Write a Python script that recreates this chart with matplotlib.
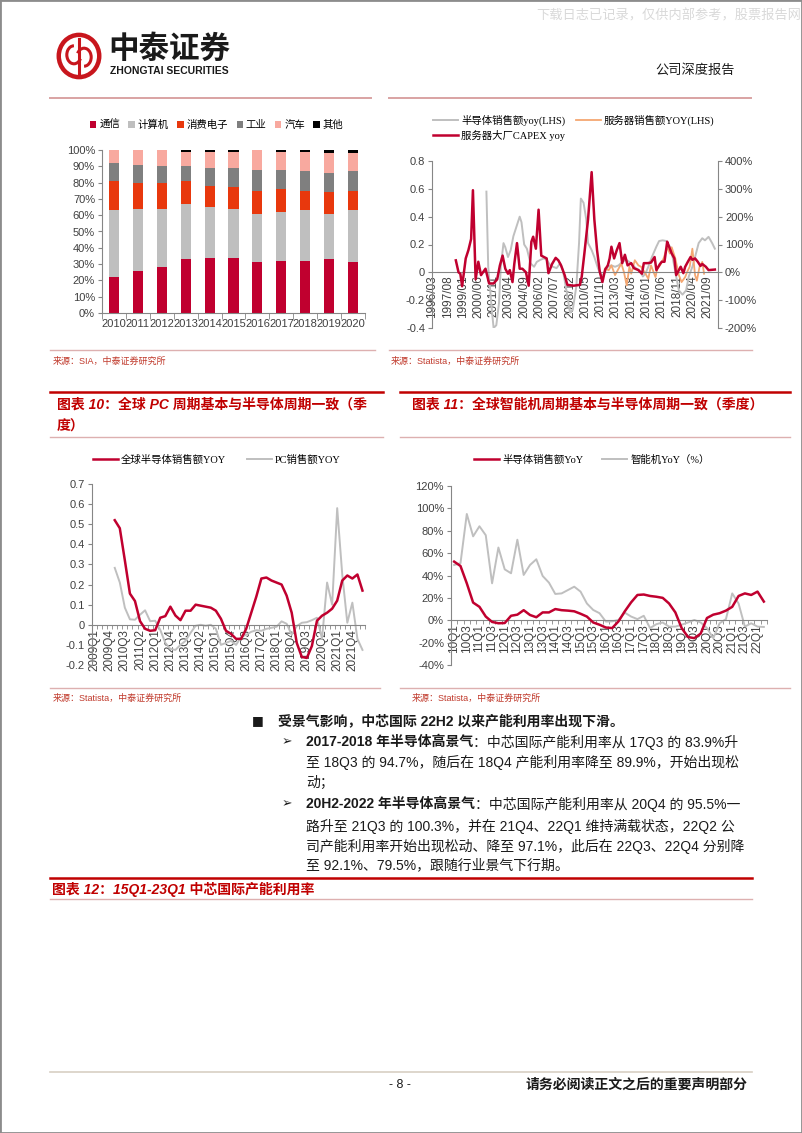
import numpy as np
import matplotlib
matplotlib.use("Agg")
import matplotlib.pyplot as plt
from matplotlib.lines import Line2D
from matplotlib.patches import Circle, Arc, Rectangle

plt.rcParams['font.family'] = ['Liberation Sans', 'Noto Sans CJK SC', 'DejaVu Sans']

# ---------------- data ----------------
# chart 1: share of semiconductor demand by end market (%)
years = ['2010', '2011', '2012', '2013', '2014', '2015', '2016', '2017', '2018', '2019', '2020']
comm = [22, 26, 28, 33, 34, 34, 31, 32, 32, 33, 31]
computer = [41, 38, 36, 34, 31, 30, 30, 30, 31, 28, 32]
consumer = [18, 16, 16, 14, 13, 13, 14, 14, 12, 13, 12]
industry = [11, 11, 10, 9, 11, 12, 13, 12, 12, 12, 12]
auto = [8, 9, 10, 9, 10, 10, 12, 11, 12, 12, 11]
other = [0, 0, 0, 1, 1, 1, 0, 1, 1, 2, 2]
seg_names = ['通信', '计算机', '消费电子', '工业', '汽车', '其他']

# chart 2: monthly axis 1996/03 - 2022/08
semi_dates = ["2001/03", "2001/05", "2001/09", "2001/11", "2002/02", "2002/05", "2002/07", "2002/10",
              "2002/12", "2003/03", "2003/06", "2003/09", "2004/01", "2004/04", "2004/06", "2004/09",
              "2004/12", "2005/04", "2005/08", "2005/11", "2006/03", "2006/07", "2006/10", "2007/02",
              "2007/05", "2007/09", "2008/01", "2008/04", "2008/08", "2008/12", "2009/03", "2009/07",
              "2009/10", "2009/12", "2010/03", "2010/06", "2010/08", "2010/12", "2011/03", "2011/07",
              "2011/11", "2012/02", "2012/06", "2012/10", "2013/02", "2013/06", "2013/10", "2014/02",
              "2014/06", "2014/10", "2015/01", "2015/05", "2015/09", "2015/12", "2016/03", "2016/07",
              "2016/12", "2017/03", "2017/07", "2017/11", "2018/03", "2018/06", "2018/10", "2019/01",
              "2019/05", "2019/09", "2019/12", "2020/04", "2020/07", "2020/11", "2021/03", "2021/06",
              "2021/10", "2022/02", "2022/05"]
semi_yoy = [0.58, 0.04, -0.27, -0.40, -0.38, -0.22, 0.04, 0.21, 0.18, 0.11, 0.16, 0.26, 0.34, 0.40,
            0.36, 0.20, 0.17, 0.065, 0.04, 0.075, 0.09, 0.10, 0.09, 0.05, 0.04, 0.03, 0.065, 0.015,
            -0.13, -0.29, -0.27, -0.10, 0.21, 0.53, 0.50, 0.38, 0.21, 0.16, 0.11, 0.03, -0.03, -0.007,
            0.04, 0.05, 0.04, 0.05, 0.075, 0.09, 0.075, 0.05, 0.03, 0.015, -0.03, -0.007, 0.04, 0.11,
            0.185, 0.225, 0.23, 0.225, 0.185, 0.11, -0.03, -0.13, -0.16, -0.13, -0.03, 0.04, 0.11,
            0.21, 0.245, 0.23, 0.255, 0.21, 0.17]

server_dates = ["2012/03", "2012/07", "2012/10", "2013/02", "2013/05", "2013/09", "2013/12", "2014/03",
                "2014/06", "2014/08", "2014/12", "2015/04", "2015/07", "2015/11", "2016/03", "2016/06",
                "2016/11", "2017/01", "2017/04", "2017/08", "2017/12", "2018/03", "2018/05", "2018/09",
                "2019/01", "2019/04", "2019/08", "2019/10", "2020/01", "2020/04", "2020/07", "2020/09",
                "2020/12", "2021/03", "2021/05"]
server_yoy = [0.027, 0.015, 0.05, -0.02, 0.015, 0.063, 0.0, -0.094, 0.04, -0.01, 0.087, 0.05, 0.04,
              0.0, -0.046, 0.05, -0.034, 0.027, 0.05, 0.10, 0.18, 0.135, 0.18, 0.10, -0.02, -0.07,
              -0.034, 0.0, 0.04, 0.17, -0.02, -0.06, 0.04, 0.075, -0.01]

capex_dates = ["1998/05", "1998/08", "1998/10", "1998/12", "1999/04", "1999/07", "1999/10", "1999/12",
               "2000/03", "2000/06", "2000/09", "2001/02", "2001/06", "2001/11", "2002/03", "2002/06",
               "2002/09", "2002/12", "2003/03", "2003/05", "2003/08", "2003/10", "2004/01", "2004/04",
               "2004/07", "2004/11", "2005/02", "2005/05", "2005/07", "2005/10", "2006/01", "2006/04",
               "2006/07", "2006/10", "2006/12", "2007/04", "2007/08", "2007/11", "2008/02", "2008/06",
               "2008/09", "2009/04", "2009/11", "2010/01", "2010/04", "2010/08", "2010/12", "2011/03",
               "2011/06", "2011/09", "2011/12", "2012/03", "2012/06", "2012/08", "2012/10", "2013/01",
               "2013/04", "2013/07", "2013/10", "2014/01", "2014/04", "2014/08", "2014/11", "2015/04",
               "2015/08", "2015/10", "2016/02", "2016/06", "2016/10", "2016/12", "2017/04", "2017/06",
               "2017/09", "2017/12", "2018/02", "2018/05", "2018/08", "2018/10", "2019/01", "2019/03",
               "2019/06", "2019/08", "2019/11", "2020/02", "2020/04", "2020/07", "2020/10", "2021/01",
               "2021/03", "2021/07", "2021/10", "2022/05"]
capex_yoy = [43, 0, -5, -50, 50, 80, 120, 295, -25, 38, -10, 13, -40, -40, -25, 25, 60, 13, -5, 8,
             -35, 30, 105, 13, 13, 0, -48, 110, 128, 85, 225, 60, 55, 50, -3, 30, 52, 43, 25, -10,
             -45, -48, -45, -15, 70, 190, 360, 190, 80, 3, -35, 10, 25, 50, 92, 50, 80, 105, 33, 63,
             25, 33, 15, 8, -5, 33, 33, 35, 55, 8, 30, 38, 38, 110, 93, 68, 50, -10, 8, 20, -3, 20,
             38, 55, 45, 50, 38, 23, 30, 20, 8, 10]

# chart 3: quarterly 2009Q1 - 2022Q2, both series start 2010Q1
pc_quarters = [f"{y}Q{q}" for y in range(2009, 2023) for q in range(1, 5)][:54]
pc_semi_yoy = [0.52, 0.48, 0.32, 0.155, 0.118, 0.018, -0.02, -0.03, -0.027, 0.035, 0.043, 0.09,
               0.046, 0.023, 0.07, 0.07, 0.10, 0.095, 0.09, 0.085, 0.07, 0.03, -0.03, -0.045, -0.07,
               -0.07, -0.02, 0.06, 0.14, 0.23, 0.235, 0.22, 0.21, 0.20, 0.145, 0.06, -0.09, -0.16,
               -0.165, -0.105, 0.02, 0.045, 0.06, 0.08, 0.12, 0.22, 0.245, 0.23, 0.25, 0.17]
pc_yoy = [0.283, 0.21, 0.085, 0.027, 0.025, 0.05, 0.072, 0.018, 0.02, -0.025, -0.09, -0.12, -0.125,
          -0.10, -0.08, -0.04, -0.005, 0.0, -0.005, 0.0, -0.02, -0.10, -0.09, -0.08, -0.10, -0.06,
          -0.05, -0.035, -0.027, -0.03, -0.02, -0.015, -0.01, 0.017, 0.005, -0.05, -0.007, 0.01,
          0.013, 0.023, 0.035, -0.07, 0.21, 0.10, 0.58, 0.25, 0.01, 0.11, -0.07, -0.125]

# chart 4: quarterly 10Q1 - 22Q2 (%)
sp_quarters = [f"{y % 100:02d}Q{q}" for y in range(2010, 2023) for q in range(1, 5)][:50]
sp_semi_yoy = [52.4, 48.5, 33, 15.8, 12, 3.3, -1.5, -2.7, -2.5, 4, 5, 9, 4.7, 2.7, 7, 7, 10, 9, 8.6,
               8, 5.8, 3.3, -2, -4, -6.5, -7, -1, 8, 16, 22.6, 23, 21.7, 21, 20, 15, 7, -7, -15, -16,
               -12, 2, 5, 6.3, 8.6, 12, 21.7, 24, 22.6, 25.6, 16.7]
phone_yoy = [49.4, 51, 95, 75, 84, 76, 33, 65, 45.5, 42, 72, 40.5, 49.4, 54.5, 39.6, 33.6, 23.5, 24,
             27, 30, 25.6, 15, 9.2, 6.3, -1.2, -1, 0.3, 6.8, 3.3, 1, 4, -7, -3.5, -2, -5.7, -5.7, -4,
             -2, 0.3, -2, -7, -16, -2.7, 1, 24, 15, -5.7, -2.7, -5.7, -6]

# ---------------- layout helpers (pixel coords, origin top-left) ----------------
W, H = 802, 1133
fig = plt.figure(figsize=(W / 100, H / 100), dpi=100)
fig.patch.set_facecolor('white')


def fx(x):
    return x / W


def fy(y):
    return 1 - y / H


def box(x0, y0, x1, y1):
    return [x0 / W, 1 - y1 / H, (x1 - x0) / W, (y1 - y0) / H]


def hline(y, x0, x1, color, lw):
    fig.add_artist(Line2D([fx(x0), fx(x1)], [fy(y), fy(y)], transform=fig.transFigure,
                          color=color, lw=lw))


def mi(s):
    y, m = s.split('/')
    return (int(y) - 1996) * 12 + int(m) - 3


CRIMSON = '#C0002F'
LGRAY = '#BFBFBF'
AXC = '#868686'
TXT = '#404040'
RED = '#C00000'
PINK = '#DDB0B0'
SRC = '#C0392B'
LEG_FONT = {'family': ['Liberation Serif', 'Noto Sans CJK SC'], 'size': 7.5}


def style_axis(ax):
    for s in ['top', 'right']:
        ax.spines[s].set_visible(False)
    for s in ['left', 'bottom']:
        ax.spines[s].set_color(AXC)
        ax.spines[s].set_linewidth(0.8)
    ax.tick_params(axis='y', direction='out', length=3, color=AXC, labelsize=8, labelcolor=TXT, pad=2)
    ax.set_facecolor('none')


# ---------------- page furniture ----------------
fig.add_artist(Rectangle((0, 0), 1, 1, transform=fig.transFigure, fill=False, ec='#8c8c8c', lw=2))
fig.text(fx(536), fy(16), "下载日志已记录，仅供内部参考，股票报告网", fontsize=9.5, color='#D9D9D9', va='center')

logo = fig.add_axes(box(56, 32, 102, 80))
logo.set_xlim(-1, 1)
logo.set_ylim(-1, 1)
logo.axis('off')
logo.add_patch(Circle((0, 0), 0.88, fill=False, ec='#C8161D', lw=3.2))
logo.add_patch(Arc((-0.22, 0.05), 0.62, 0.75, theta1=90, theta2=330, ec='#C8161D', lw=2.2))
logo.add_patch(Arc((0.22, -0.05), 0.62, 0.75, theta1=-90, theta2=150, ec='#C8161D', lw=2.2))
logo.plot([0, 0], [-0.72, 0.72], color='#C8161D', lw=2.2)
fig.text(fx(108), fy(49), "中泰证券", fontsize=22, fontweight='bold', color='#1a1a1a', va='center',
         family=['Noto Sans CJK SC'])
fig.text(fx(110), fy(71), "ZHONGTAI SECURITIES", fontsize=7.5, fontweight='bold', color='#1a1a1a',
         va='center', family=['Liberation Sans Narrow', 'Liberation Sans'])
fig.text(fx(655), fy(70), "公司深度报告", fontsize=9.5, color='#1a1a1a', va='center')
hline(98, 50, 371, '#D9A3A3', 1.4)
hline(98, 389, 751, '#D9A3A3', 1.4)

# ---------------- chart 1: stacked bars ----------------
ax1 = fig.add_axes(box(102, 150, 365, 313))
style_axis(ax1)
x = np.arange(len(years))
bottom = np.zeros(len(years))
for vals, col, lab in zip([comm, computer, consumer, industry, auto, other],
                          [CRIMSON, LGRAY, '#E8380D', '#7F7F7F', '#F8A99F', '#000000'], seg_names):
    ax1.bar(x, vals, width=0.42, bottom=bottom, color=col, label=lab)
    bottom += np.array(vals)
ax1.set_ylim(0, 100)
ax1.set_xlim(-0.5, len(years) - 0.5)
ax1.set_yticks(range(0, 101, 10))
ax1.set_yticklabels([f"{v}%" for v in range(0, 101, 10)])
ax1.set_xticks(x)
ax1.set_xticklabels(years)
ax1.set_xticks(np.arange(-0.5, len(years), 1), minor=True)
ax1.tick_params(axis='x', which='major', length=0, labelsize=8, labelcolor=TXT, pad=4)
ax1.tick_params(axis='x', which='minor', length=4, color=AXC, direction='out')
h, l = ax1.get_legend_handles_labels()
fig.legend(h, l, loc='center left', bbox_to_anchor=(fx(90), fy(125)), ncol=6, frameon=False,
           prop={'family': ['Noto Sans CJK SC'], 'size': 7.5}, handlelength=0.6, handleheight=0.6,
           handletextpad=0.3, columnspacing=0.8, borderpad=0, borderaxespad=0)

# ---------------- chart 2: dual axis monthly ----------------
ax2 = fig.add_axes(box(432, 161, 718, 328))
style_axis(ax2)
ax2.spines['bottom'].set_position(('data', 0))
ax2.set_xlim(-0.5, 317.5)
ax2.set_ylim(-0.4, 0.8)
ax2.set_yticks(np.arange(-0.4, 0.81, 0.2))
ax2.set_yticklabels([f"{v:g}" for v in np.round(np.arange(-0.4, 0.81, 0.2), 1)])
tick_idx = list(range(0, 307, 17))
ax2.set_xticks(tick_idx)
ax2.set_xticklabels([f"{1996 + (2 + i) // 12}/{(2 + i) % 12 + 1:02d}" for i in tick_idx], rotation=90)
ax2.tick_params(axis='x', length=0, labelsize=8.5, labelcolor=TXT, pad=2)
l_semi, = ax2.plot([mi(d) for d in semi_dates], semi_yoy, color=LGRAY, lw=1.4)
l_srv, = ax2.plot([mi(d) for d in server_dates], server_yoy, color='#F4A772', lw=1.3)
ax2b = ax2.twinx()
ax2b.set_ylim(-200, 400)
for s in ['top', 'left', 'bottom']:
    ax2b.spines[s].set_visible(False)
ax2b.spines['right'].set_color(AXC)
ax2b.spines['right'].set_linewidth(0.8)
ax2b.set_yticks(range(-200, 401, 100))
ax2b.set_yticklabels([f"{v}%" for v in range(-200, 401, 100)])
ax2b.tick_params(axis='y', direction='out', length=3, color=AXC, labelsize=8, labelcolor=TXT, pad=2)
l_cap, = ax2b.plot([mi(d) for d in capex_dates], capex_yoy, color=CRIMSON, lw=1.8)
fig.legend([l_semi, l_cap, l_srv], ["半导体销售额yoy(LHS)", "服务器大厂CAPEX yoy", "服务器销售额YOY(LHS)"],
           loc='upper left', bbox_to_anchor=(fx(433), fy(115)), ncol=2, frameon=False, prop=LEG_FONT,
           handlelength=2.4, handletextpad=0.3, columnspacing=1.0, labelspacing=0.35,
           borderpad=0, borderaxespad=0)

# ---------------- sources / titles (middle) ----------------
hline(350, 50, 375, PINK, 1.0)
hline(350, 389, 752, PINK, 1.0)
fig.text(fx(53), fy(361), "来源：SIA，中泰证券研究所", fontsize=6.5, color=SRC, va='center')
fig.text(fx(391), fy(361), "来源：Statista，中泰证券研究所", fontsize=6.5, color=SRC, va='center')

hline(392, 50, 383, RED, 1.8)
hline(392, 400, 790, RED, 1.8)
title_kw = dict(fontsize=10, fontweight='bold', color=RED, va='center', style='italic')
fig.text(fx(57), fy(405), "图表 10：全球 PC 周期基本与半导体周期一致（季", **title_kw)
fig.text(fx(57), fy(427), "度）", **title_kw)
fig.text(fx(412), fy(405), "图表 11：全球智能机周期基本与半导体周期一致（季度）", **title_kw)
hline(437, 50, 383, PINK, 1.0)
hline(437, 400, 790, PINK, 1.0)

# ---------------- chart 3: PC vs semis ----------------
ax3 = fig.add_axes(box(92, 484, 365, 665))
style_axis(ax3)
ax3.spines['bottom'].set_position(('data', 0))
ax3.set_xlim(-0.5, len(pc_quarters) - 0.5)
ax3.set_ylim(-0.2, 0.7)
yt3 = np.round(np.arange(-0.2, 0.71, 0.1), 1)
ax3.set_yticks(yt3)
ax3.set_yticklabels([f"{v:g}" for v in yt3])
t3 = list(range(0, len(pc_quarters), 3))
ax3.set_xticks(t3)
ax3.set_xticklabels([pc_quarters[i] for i in t3], rotation=90)
ax3.set_xticks(np.arange(-0.5, len(pc_quarters), 1), minor=True)
ax3.tick_params(axis='x', which='major', length=0, labelsize=8.5, labelcolor=TXT, pad=3)
ax3.tick_params(axis='x', which='minor', length=3, color=AXC, direction='out')
start3 = len(pc_quarters) - len(pc_semi_yoy)
lp_s, = ax3.plot(range(start3, len(pc_quarters)), pc_semi_yoy, color=CRIMSON, lw=1.8, zorder=3)
lp_p, = ax3.plot(range(start3, len(pc_quarters)), pc_yoy, color=LGRAY, lw=1.4, zorder=2)
fig.legend([lp_s, lp_p], ["全球半导体销售额YOY", "PC销售额YOY"], loc='center left',
           bbox_to_anchor=(fx(93), fy(460)), ncol=2, frameon=False, prop=LEG_FONT,
           handlelength=2.4, handletextpad=0.3, columnspacing=2.0, borderpad=0, borderaxespad=0)

# ---------------- chart 4: smartphone vs semis ----------------
ax4 = fig.add_axes(box(451, 486, 767, 665))
style_axis(ax4)
ax4.spines['bottom'].set_position(('data', 0))
ax4.set_xlim(-0.5, len(sp_quarters) - 0.5)
ax4.set_ylim(-40, 120)
ax4.set_yticks(range(-40, 121, 20))
ax4.set_yticklabels([f"{v}%" for v in range(-40, 121, 20)])
t4 = list(range(0, len(sp_quarters), 2))
ax4.set_xticks(t4)
ax4.set_xticklabels([sp_quarters[i] for i in t4], rotation=90)
ax4.set_xticks(np.arange(-0.5, len(sp_quarters), 1), minor=True)
ax4.tick_params(axis='x', which='major', length=0, labelsize=8.5, labelcolor=TXT, pad=3)
ax4.tick_params(axis='x', which='minor', length=3, color=AXC, direction='out')
ls_s, = ax4.plot(range(len(sp_semi_yoy)), sp_semi_yoy, color=CRIMSON, lw=1.8, zorder=3)
ls_p, = ax4.plot(range(len(phone_yoy)), phone_yoy, color=LGRAY, lw=1.4, zorder=2)
fig.legend([ls_s, ls_p], ["半导体销售额YoY", "智能机YoY（%）"], loc='center left',
           bbox_to_anchor=(fx(474), fy(460)), ncol=2, frameon=False, prop=LEG_FONT,
           handlelength=2.4, handletextpad=0.3, columnspacing=1.8, borderpad=0, borderaxespad=0)

hline(688, 50, 380, PINK, 1.0)
hline(688, 400, 790, PINK, 1.0)
fig.text(fx(53), fy(698), "来源：Statista，中泰证券研究所", fontsize=6.5, color=SRC, va='center')
fig.text(fx(412), fy(698), "来源：Statista，中泰证券研究所", fontsize=6.5, color=SRC, va='center')

# ---------------- body text ----------------
renderer = fig.canvas.get_renderer()


def rich(x0, y, parts, size=10):
    xx = x0
    for s, bold in parts:
        t = fig.text(fx(xx), fy(y), s, fontsize=size, fontweight='bold' if bold else 'normal',
                     color='#1a1a1a', va='center', ha='left')
        xx += t.get_window_extent(renderer=renderer).width


fig.text(fx(252), fy(721), "■", fontsize=9, color='#1a1a1a', va='center', family=['DejaVu Sans'])
rich(278, 721, [("受景气影响，中芯国际 22H2 以来产能利用率出现下滑。", True)])
fig.text(fx(282), fy(742), "➢", fontsize=9, color='#1a1a1a', va='center', family=['DejaVu Sans'])
rich(306, 742, [("2017-2018 年半导体高景气", True), ("：中芯国际产能利用率从 17Q3 的 83.9%升", False)])
rich(306, 762, [("至 18Q3 的 94.7%，随后在 18Q4 产能利用率降至 89.9%，开始出现松", False)])
rich(306, 783, [("动；", False)])
fig.text(fx(282), fy(804), "➢", fontsize=9, color='#1a1a1a', va='center', family=['DejaVu Sans'])
rich(306, 804, [("20H2-2022 年半导体高景气", True), ("：中芯国际产能利用率从 20Q4 的 95.5%一", False)])
rich(306, 826, [("路升至 21Q3 的 100.3%，并在 21Q4、22Q1 维持满载状态，22Q2 公", False)])
rich(306, 846, [("司产能利用率开始出现松动、降至 97.1%，此后在 22Q3、22Q4 分别降", False)])
rich(306, 865, [("至 92.1%、79.5%，跟随行业景气下行期。", False)])

hline(878, 50, 752, RED, 1.8)
fig.text(fx(52), fy(889), "图表 12：15Q1-23Q1 中芯国际产能利用率", **title_kw)
hline(899, 50, 752, PINK, 1.0)

# ---------------- footer ----------------
hline(1072, 50, 752, '#D8CFC4', 1.2)
fig.text(fx(400), fy(1085), "- 8 -", fontsize=9, color='#1a1a1a', va='center', ha='center')
fig.text(fx(748), fy(1085), "请务必阅读正文之后的重要声明部分", fontsize=10, fontweight='bold',
         color='#1a1a1a', va='center', ha='right')

fig.savefig("out.png", dpi=100, facecolor='white')
